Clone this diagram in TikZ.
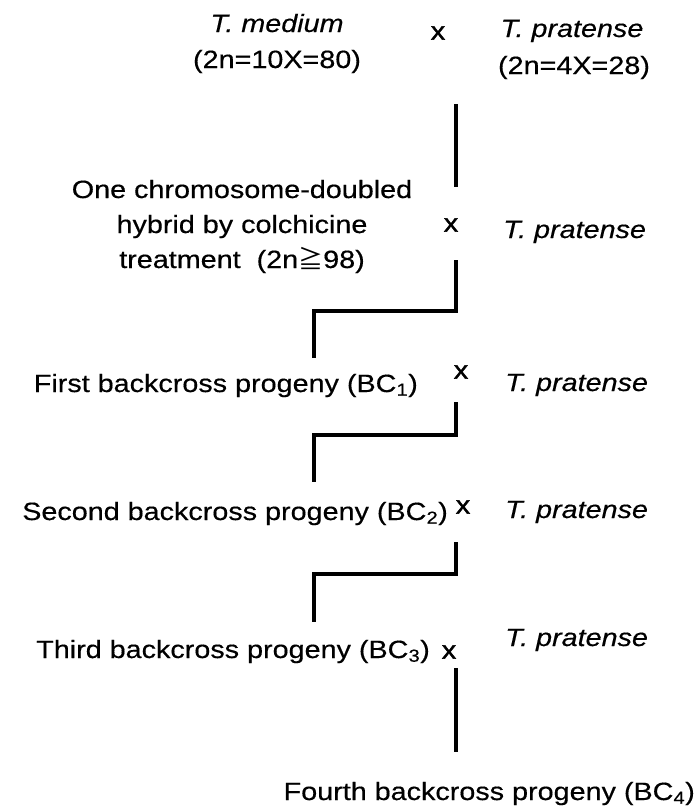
\documentclass[tikz,border=0pt]{standalone}
\usepackage{fontspec}
\setmainfont{Liberation Sans}[FakeStretch=1.15,FakeBold=0.4]
\newfontfamily\cjkfont{Noto Sans CJK JP}
\newfontfamily\crossfont{Liberation Sans}[FakeStretch=1.15,FakeBold=1.5]
\begin{document}
\begin{tikzpicture}[x=1pt,y=-1pt,
  lbl/.style={inner sep=0pt,font=\fontsize{25}{35}\selectfont},
  cross/.style={inner sep=0pt,font=\fontsize{25}{35}\crossfont},
  link/.style={line width=3.6pt,line join=miter,line cap=butt}]
\useasboundingbox[fill=white] (0,0) rectangle (700,811);
% top row
\node[lbl,anchor=base] (tm) at (277,32) {\itshape T. medium};
\node[lbl,anchor=base] (tmc) at (277,68) {(2n=10X=80)};
\node[cross] (x0) at (438,33) {x};
\node[lbl,anchor=base] (tp0) at (572,37) {\itshape T. pratense};
\node[lbl,anchor=base] (tp0c) at (574,74) {(2n=4X=28)};
% hybrid row
\node[lbl,anchor=base,align=center] (hy) at (242,268)
  {One chromosome-doubled\\hybrid by colchicine\\treatment\ \ (2n{\cjkfont ≧}98)};
\node[cross] (x1) at (451,225) {x};
\node[lbl,anchor=base west] (tp1) at (503,238) {\itshape T. pratense};
% BC1
\node[lbl,anchor=base east] (bc1) at (418,392) {First backcross progeny (BC\textsubscript{1})};
\node[cross] (x2) at (461,372) {x};
\node[lbl,anchor=base west] (tp2) at (505,391) {\itshape T. pratense};
% BC2
\node[lbl,anchor=base east] (bc2) at (448,520) {Second backcross progeny (BC\textsubscript{2})};
\node[cross] (x3) at (463,507) {x};
\node[lbl,anchor=base west] (tp3) at (505,518) {\itshape T. pratense};
% BC3
\node[lbl,anchor=base east] (bc3) at (430,658) {Third backcross progeny (BC\textsubscript{3})};
\node[cross] (x4) at (449,652) {x};
\node[lbl,anchor=base west] (tp4) at (505,646) {\itshape T. pratense};
% BC4
\node[lbl,anchor=base east] (bc4) at (695,800) {Fourth backcross progeny (BC\textsubscript{4})};
% connector end points
\coordinate (a1) at (456,104); \coordinate (a2) at (456,187);
\coordinate (b1) at (456,260); \coordinate (b2) at (456,311);
\coordinate (b3) at (314,311); \coordinate (b4) at (314,358);
\coordinate (c1) at (456,402); \coordinate (c2) at (456,435);
\coordinate (c3) at (314,435); \coordinate (c4) at (314,482);
\coordinate (d1) at (456,542); \coordinate (d2) at (456,574);
\coordinate (d3) at (314,574); \coordinate (d4) at (314,622);
\coordinate (e1) at (456,668); \coordinate (e2) at (456,752);
\draw[link] (a1) -- (a2);
\draw[link] (b1) -- (b2) -- (b3) -- (b4);
\draw[link] (c1) -- (c2) -- (c3) -- (c4);
\draw[link] (d1) -- (d2) -- (d3) -- (d4);
\draw[link] (e1) -- (e2);
\end{tikzpicture}
\end{document}
